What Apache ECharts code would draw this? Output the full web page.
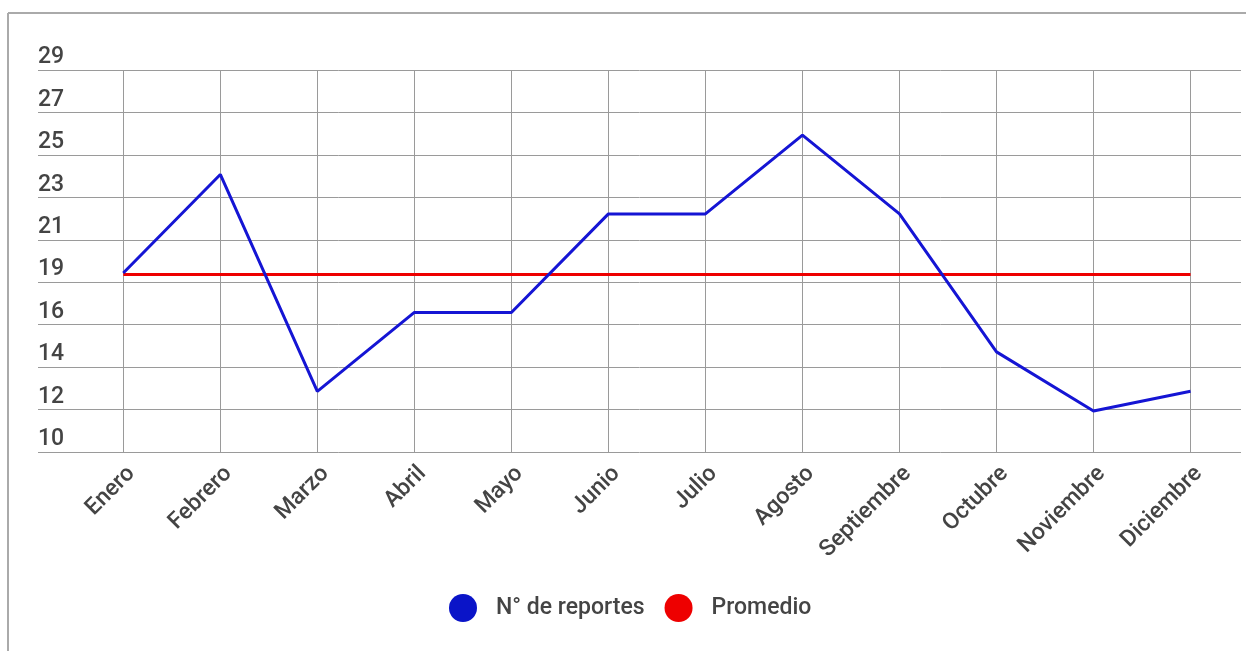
<!DOCTYPE html>
<html>
<head>
<meta charset="utf-8">
<script src="https://cdn.jsdelivr.net/npm/echarts@6/dist/echarts.min.js"></script>
<style>
html,body{margin:0;padding:0;background:#fff;}
#chart{width:1246px;height:651px;}
</style>
</head>
<body>
<div id="chart"></div>
<script>
const months = ['Enero','Febrero','Marzo','Abril','Mayo','Junio','Julio','Agosto','Septiembre','Octubre','Noviembre','Diciembre'];
const reportes = [19,24,13,17,17,22,22,26,22,15,12,13];
const promedio = [18.92,18.92,18.92,18.92,18.92,18.92,18.92,18.92,18.92,18.92,18.92,18.92];
const yTickLabels = ['10','12','14','16','19','21','23','25','27','29'];
const yMin = 9.92, yMax = 29.3;

const step = (yMax - yMin) / (yTickLabels.length - 1);
const yTicks = yTickLabels.map((_, i) => i === yTickLabels.length - 1 ? yMax : yMin + i * step);
const xTicks = months.map((_, i) => i);

const FONT = 'Roboto';
const FS = 23;
const chart = echarts.init(document.getElementById('chart'), null, {renderer: 'canvas'});
chart.setOption({
  animation: false,
  textStyle: {fontFamily: FONT},
  graphic: [
    {type: 'line', shape: {x1: 8, y1: 13, x2: 1246, y2: 13}, style: {stroke: '#aaaaaa', lineWidth: 2}, silent: true},
    {type: 'line', shape: {x1: 8, y1: 13, x2: 8, y2: 651}, style: {stroke: '#aaaaaa', lineWidth: 2}, silent: true}
  ],
  grid: {left: 38, right: 5, top: 70, bottom: 199, containLabel: false},
  legend: {
    data: ['N° de reportes', 'Promedio'],
    icon: 'circle',
    itemWidth: 28, itemHeight: 28, itemGap: 20,
    left: 444, top: 589,
    textStyle: {fontFamily: FONT, fontSize: FS, fontWeight: 500, color: '#444', padding: [0, 0, 0, 14]}
  },
  xAxis: {
    type: 'value',
    min: -0.879, max: 11.52,
    axisLine: {show: false},
    axisTick: {show: false, customValues: xTicks},
    axisLabel: {
      customValues: xTicks,
      rotate: 45,
      margin: 10,
      verticalAlign: 'top',
      fontFamily: FONT, fontSize: FS, fontWeight: 500, color: '#444',
      formatter: v => months[Math.round(v)] || ''
    },
    splitLine: {show: true, lineStyle: {color: '#9a9a9a', width: 1}}
  },
  yAxis: {
    type: 'value',
    min: yMin, max: yMax,
    axisLine: {show: false},
    axisTick: {show: false, customValues: yTicks},
    axisLabel: {
      customValues: yTicks,
      inside: true,
      margin: 0,
      align: 'left',
      verticalAlign: 'bottom',
      padding: [0, 0, 1, 0],
      fontFamily: FONT, fontSize: FS, fontWeight: 500, color: '#444',
      formatter: v => yTickLabels[Math.round((v - yMin) / step)] || ''
    },
    splitLine: {show: true, lineStyle: {color: '#9a9a9a', width: 1}}
  },
  series: [
    {
      name: 'N° de reportes', type: 'line', symbol: 'none',
      data: reportes.map((v, i) => [i, v]),
      lineStyle: {color: '#1515d4', width: 3},
      itemStyle: {color: '#0a14c8'},
      z: 3
    },
    {
      name: 'Promedio', type: 'line', symbol: 'none',
      data: promedio.map((v, i) => [i, v]),
      lineStyle: {color: '#ee0000', width: 3},
      itemStyle: {color: '#ee0000'},
      z: 2
    }
  ]
});
</script>
</body>
</html>
